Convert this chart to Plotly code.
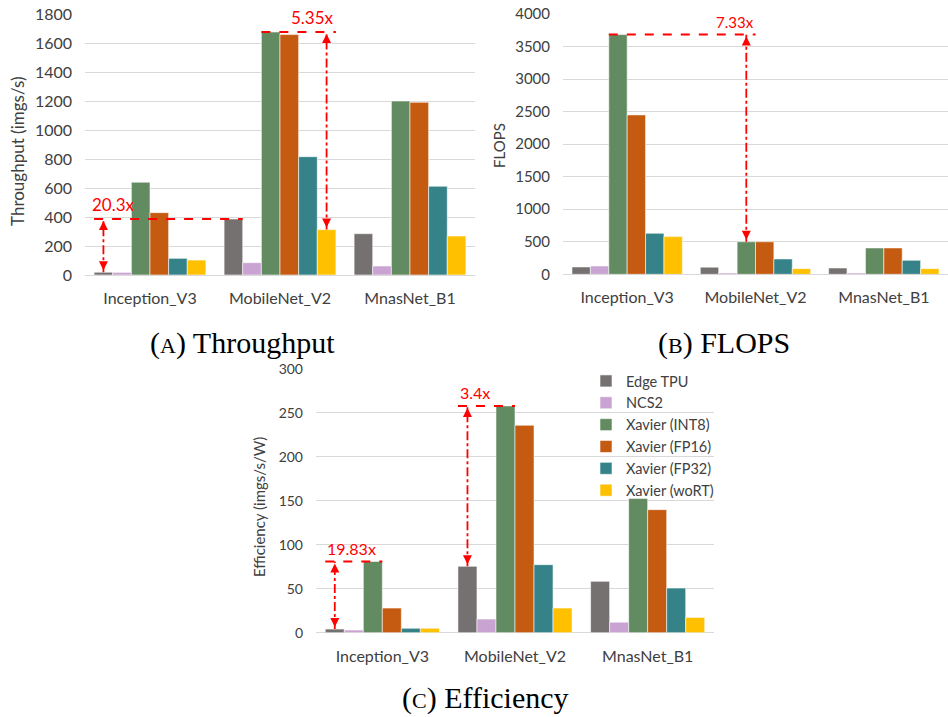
import plotly.graph_objects as go

# ---------------- data ----------------
categories = ["Inception_V3", "MobileNet_V2", "MnasNet_B1"]
series_names = ["Edge TPU", "NCS2", "Xavier (INT8)", "Xavier (FP16)", "Xavier (FP32)", "Xavier (woRT)"]

thr_edge_tpu = [19, 386, 285]
thr_ncs2 = [18, 85, 62]
thr_int8 = [640, 1676, 1200]
thr_fp16 = [430, 1658, 1191]
thr_fp32 = [115, 816, 612]
thr_wort = [103, 313, 269]

flops_edge_tpu = [113, 110, 97]
flops_ncs2 = [128, 20, 20]
flops_int8 = [3684, 500, 405]
flops_fp16 = [2449, 500, 405]
flops_fp32 = [630, 236, 215]
flops_wort = [579, 87, 87]

eff_edge_tpu = [4.1, 75.5, 58.4]
eff_ncs2 = [3, 15.5, 12]
eff_int8 = [81, 258, 152.8]
eff_fp16 = [28, 236, 140]
eff_fp32 = [5, 77.4, 50.8]
eff_wort = [5, 28, 17.4]

ratio_labels = ["20.3x", "5.35x", "7.33x", "19.83x", "3.4x"]
captions = ["Throughput", "FLOPS", "Efficiency"]
caption_letters = ["A", "B", "C"]
y_titles = ["Throughput (imgs/s)", "FLOPS", "Efficiency (imgs/s/W)"]

# ---------------- styling ----------------
colors = ["#767171", "#C9A3D1", "#638B62", "#C55A11", "#358389", "#FFC000"]
W, H = 948, 717
FONT = "Lato"
TXT = "#404040"
GRID = "#D9D9D9"
RED = "#FF0000"
BARGAP = 0.14


def px(x):
    return x / W


def py(y):
    return 1 - y / H


thr = [thr_edge_tpu, thr_ncs2, thr_int8, thr_fp16, thr_fp32, thr_wort]
flops = [flops_edge_tpu, flops_ncs2, flops_int8, flops_fp16, flops_fp32, flops_wort]
eff = [eff_edge_tpu, eff_ncs2, eff_int8, eff_fp16, eff_fp32, eff_wort]

fig = go.Figure()

panels = [
    (thr, "x", "y"),
    (flops, "x2", "y2"),
    (eff, "x3", "y3"),
]
for pi, (data, xa, ya) in enumerate(panels):
    for si, name in enumerate(series_names):
        fig.add_trace(go.Bar(
            x=categories, y=data[si], name=name,
            marker=dict(color=colors[si], line=dict(color="rgba(255,255,255,0.7)", width=0.8)),
            xaxis=xa, yaxis=ya,
            legendgroup=name, showlegend=(pi == 2),
            hoverinfo="skip",
        ))

# bar geometry in category units
bw = (1 - BARGAP) / 6


def left(cat, i):
    return cat - (1 - BARGAP) / 2 + i * bw


def right(cat, i):
    return left(cat, i) + bw


def center(cat, i):
    return left(cat, i) + bw / 2


shapes = []
annotations = []


def ratio_mark(xr, yr, hx0, hx1, hy, ax_x, ay0, ay1, label, tx, tanchor, fsize):
    # horizontal dashed line
    shapes.append(dict(type="line", xref=xr, yref=yr, x0=hx0, x1=hx1, y0=hy, y1=hy,
                       line=dict(color=RED, width=2, dash="dash")))
    # vertical dotted double arrow
    shapes.append(dict(type="line", xref=xr, yref=yr, x0=ax_x, x1=ax_x, y0=ay0, y1=ay1,
                       line=dict(color=RED, width=1.8, dash="dashdot")))
    lo, hi = min(ay0, ay1), max(ay0, ay1)
    annotations.append(dict(x=ax_x, y=hi, xref=xr, yref=yr, text="", showarrow=True,
                            ax=0, ay=9, arrowhead=2, arrowsize=1, arrowwidth=1.8,
                            arrowcolor=RED, standoff=2))
    annotations.append(dict(x=ax_x, y=lo, xref=xr, yref=yr, text="", showarrow=True,
                            ax=0, ay=-9, arrowhead=2, arrowsize=1, arrowwidth=1.8,
                            arrowcolor=RED, standoff=2))
    annotations.append(dict(x=tx, y=hy, xref=xr, yref=yr, text=label, showarrow=False,
                            xanchor=tanchor, yanchor="bottom", yshift=2,
                            font=dict(family=FONT, size=fsize, color=RED)))


# (A) 20.3x : Edge TPU Inception vs MobileNet
ratio_mark("x", "y", left(0, 0), right(1, 0), thr_edge_tpu[1], center(0, 0),
           thr_edge_tpu[0], thr_edge_tpu[1], ratio_labels[0], left(0, 0) - 0.03, "left", 17)
# (A) 5.35x : MobileNet INT8 vs woRT
ratio_mark("x", "y", left(1, 2), right(1, 5), thr_int8[1], center(1, 5),
           thr_wort[1], thr_int8[1], ratio_labels[1], right(1, 5), "right", 17)
# (B) 7.33x : INT8 Inception vs MobileNet
ratio_mark("x2", "y2", left(0, 2), right(1, 2), flops_int8[0], center(1, 2),
           flops_int8[1], flops_int8[0], ratio_labels[2], right(1, 2), "right", 15)
# (C) 19.83x : Inception Edge vs INT8
ratio_mark("x3", "y3", left(0, 0), right(0, 2), eff_int8[0], center(0, 0),
           eff_edge_tpu[0], eff_int8[0], ratio_labels[3], left(0, 0), "left", 16)
# (C) 3.4x : MobileNet Edge vs INT8
ratio_mark("x3", "y3", left(1, 0), right(1, 2), eff_int8[1], center(1, 0),
           eff_edge_tpu[1], eff_int8[1], ratio_labels[4], left(1, 0), "left", 16)

# captions
cap_pos = [(243, 343), (724, 343), (485, 698)]
for (cx, cy), letter, cap in zip(cap_pos, caption_letters, captions):
    annotations.append(dict(
        x=px(cx), y=py(cy), xref="paper", yref="paper", showarrow=False,
        xanchor="center", yanchor="middle",
        text="(<span style='font-size:22px'>%s</span>) %s" % (letter, cap),
        font=dict(family="Liberation Serif", size=30, color="#000000")))

# y-axis titles
yt_pos = [(17, 151, 17), (499, 145, 15), (259, 507, 15)]
for (tx, ty, fs), t in zip(yt_pos, y_titles):
    annotations.append(dict(
        x=px(tx), y=py(ty), xref="paper", yref="paper", showarrow=False,
        xanchor="center", yanchor="middle", textangle=-90, text=t,
        font=dict(family=FONT, size=fs, color=TXT)))


def xaxis(domain, anchor):
    return dict(domain=domain, anchor=anchor, range=[-0.5, 2.5], showgrid=False,
                showline=False, zeroline=False, ticks="", automargin=False,
                tickfont=dict(family=FONT, size=16, color=TXT), ticklabelstandoff=12)


def yaxis(domain, anchor, rng, dtick, fs):
    return dict(domain=domain, anchor=anchor, range=rng, dtick=dtick, showgrid=True,
                gridcolor=GRID, gridwidth=1, zeroline=True, zerolinecolor=GRID,
                zerolinewidth=1, showline=False, ticks="", automargin=False,
                tickfont=dict(family=FONT, size=fs, color=TXT), ticklabelstandoff=12)


fig.update_layout(
    width=W, height=H,
    margin=dict(l=0, r=0, t=0, b=0, pad=0, autoexpand=False),
    paper_bgcolor="white", plot_bgcolor="white",
    barmode="group", bargap=BARGAP, bargroupgap=0,
    xaxis=xaxis([px(85), px(475)], "y"),
    yaxis=yaxis([py(275), py(14)], "x", [0, 1800], 200, 16),
    xaxis2=xaxis([px(563), px(948)], "y2"),
    yaxis2=yaxis([py(274.3), py(14)], "x2", [0, 4000], 500, 15),
    xaxis3=xaxis([px(316), px(714)], "y3"),
    yaxis3=yaxis([py(632.7), py(369)], "x3", [0, 300], 50, 14),
    showlegend=True,
    legend=dict(x=px(586), y=py(365), xanchor="left", yanchor="top",
                bgcolor="rgba(255,255,255,0)", borderwidth=0, tracegroupgap=0,
                font=dict(family=FONT, size=14.5, color=TXT), itemclick=False),
    shapes=shapes, annotations=annotations,
)

fig.write_html("out.html")
